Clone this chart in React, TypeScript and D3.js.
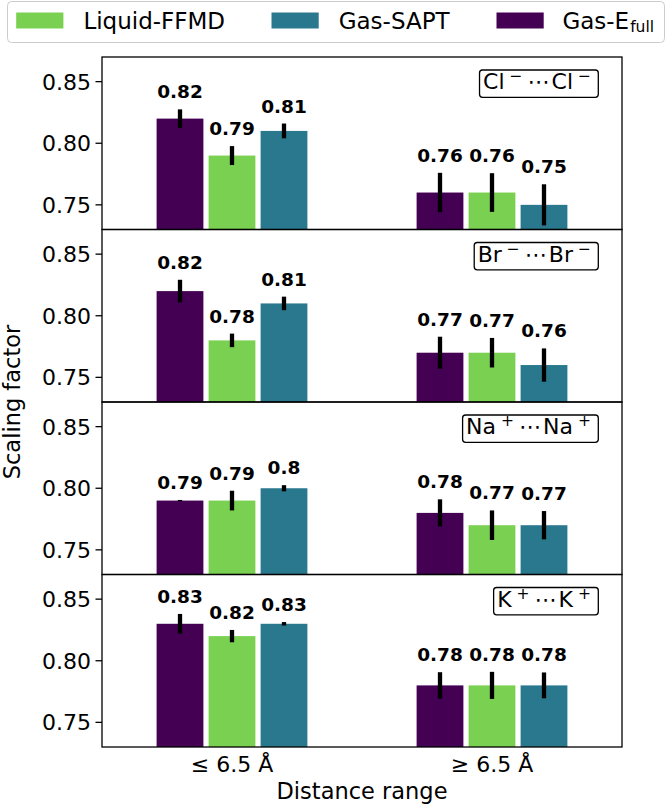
import React, { useEffect, useRef } from "react";
import * as d3 from "d3";

// ---- data ----
const categories = ["≤ 6.5 Å", "≥ 6.5 Å"];
const systemNames = ["Cl", "Br", "Na", "K"];
const systemCharges = ["−", "−", "+", "+"];

const seriesKeys = ["efull", "ffmd", "sapt"];
const seriesColors = ["#440154", "#7ad151", "#2a788e"];
const seriesOffsets = [-0.2, 0, 0.2];

// values[system][category]
const efullValues = [[0.82, 0.76], [0.82, 0.77], [0.79, 0.78], [0.83, 0.78]];
const ffmdValues = [[0.79, 0.76], [0.78, 0.77], [0.79, 0.77], [0.82, 0.78]];
const saptValues = [[0.81, 0.75], [0.81, 0.76], [0.80, 0.77], [0.83, 0.78]];

const efullErrors = [[0.0075, 0.016], [0.0092, 0.013], [0.0005, 0.011], [0.008, 0.0107]];
const ffmdErrors = [[0.0077, 0.0157], [0.0055, 0.012], [0.008, 0.012], [0.005, 0.011]];
const saptErrors = [[0.006, 0.0167], [0.0055, 0.0135], [0.0025, 0.0115], [0.0014, 0.0105]];

const yTicks = [0.75, 0.8, 0.85];
const yTickLabels = ["0.75", "0.80", "0.85"];
const yDomain = [0.73, 0.87];

const legendLabels = ["Liquid-FFMD", "Gas-SAPT", "Gas-E"];
const legendColors = ["#7ad151", "#2a788e", "#440154"];

const FONT = "DejaVu Sans";

export default function App() {
  const ref = useRef<SVGSVGElement>(null);

  useEffect(() => {
    const svg = d3.select(ref.current);
    svg.selectAll("*").remove();

    const values = [efullValues, ffmdValues, saptValues];
    const errors = [efullErrors, ffmdErrors, saptErrors];

    const left = 102, right = 622;
    const firstTop = 57, panelH = 172.5;
    const x = d3.scaleLinear().domain([-0.5, 1.5]).range([left, right]);
    const barW = x(0.18) - x(0);

    systemNames.forEach((name, i) => {
      const top = firstTop + i * panelH;
      const bottom = top + panelH;
      const y = d3.scaleLinear().domain(yDomain).range([bottom, top]);
      const g = svg.append("g");

      seriesKeys.forEach((key, j) => {
        categories.forEach((_, k) => {
          const v = values[j][i][k];
          const e = errors[j][i][k];
          const cx = x(k + seriesOffsets[j]);
          g.append("rect")
            .attr("x", cx - barW / 2)
            .attr("y", y(v))
            .attr("width", barW)
            .attr("height", bottom - y(v))
            .attr("fill", seriesColors[j]);
          g.append("line")
            .attr("x1", cx).attr("x2", cx)
            .attr("y1", y(v - e)).attr("y2", y(v + e))
            .attr("stroke", "#000")
            .attr("stroke-width", 4.3);
          g.append("text")
            .attr("x", cx)
            .attr("y", y(v + e) - 11)
            .attr("text-anchor", "middle")
            .attr("font-family", FONT)
            .attr("font-weight", "bold")
            .attr("font-size", 18.5)
            .attr("fill", "#000")
            .text(String(v));
        });
      });

      // spines
      g.append("rect")
        .attr("x", left).attr("y", top)
        .attr("width", right - left).attr("height", panelH)
        .attr("fill", "none").attr("stroke", "#000").attr("stroke-width", 1.3);

      // y ticks
      yTicks.forEach((t, ti) => {
        g.append("line")
          .attr("x1", left - 6.5).attr("x2", left)
          .attr("y1", y(t)).attr("y2", y(t))
          .attr("stroke", "#000").attr("stroke-width", 1.3);
        g.append("text")
          .attr("x", left - 11)
          .attr("y", y(t))
          .attr("dy", "0.36em")
          .attr("text-anchor", "end")
          .attr("font-family", FONT)
          .attr("font-size", 22)
          .attr("fill", "#000")
          .text(yTickLabels[ti]);
      });

      // annotation box
      const ann = g.append("g");
      const rectSel = ann.append("rect");
      const txt = ann.append("text")
        .attr("x", 591)
        .attr("y", top + 32.3)
        .attr("text-anchor", "end")
        .attr("font-family", FONT)
        .attr("font-size", 22)
        .attr("fill", "#000");
      txt.append("tspan").text(name);
      txt.append("tspan").attr("font-size", 15.5).attr("dx", 5).attr("dy", -8).text(systemCharges[i]);
      txt.append("tspan").attr("dx", 5).attr("dy", 8).text("⋯");
      txt.append("tspan").attr("dx", 2).text(name);
      txt.append("tspan").attr("font-size", 15.5).attr("dx", 5).attr("dy", -8).text(systemCharges[i]);
      const bb = (txt.node() as SVGTextElement).getBBox();
      const bx = bb.x - 3.5;
      rectSel
        .attr("x", bx).attr("y", top + 13)
        .attr("width", 598.3 - bx).attr("height", 27.3)
        .attr("rx", 3)
        .attr("fill", "#fff")
        .attr("stroke", "#000")
        .attr("stroke-width", 1.3);
    });

    const lastBottom = firstTop + systemNames.length * panelH;

    // x tick labels
    categories.forEach((c, k) => {
      svg.append("text")
        .attr("x", x(k))
        .attr("y", lastBottom + 25)
        .attr("text-anchor", "middle")
        .attr("font-family", FONT)
        .attr("font-size", 22)
        .attr("fill", "#000")
        .text(c);
    });

    // axis labels
    svg.append("text")
      .attr("x", (left + right) / 2)
      .attr("y", 799)
      .attr("text-anchor", "middle")
      .attr("font-family", FONT)
      .attr("font-size", 22.5)
      .attr("fill", "#000")
      .text("Distance range");
    svg.append("text")
      .attr("transform", `translate(19.8, ${(firstTop + lastBottom) / 2}) rotate(-90)`)
      .attr("text-anchor", "middle")
      .attr("font-family", FONT)
      .attr("font-size", 22.5)
      .attr("fill", "#000")
      .text("Scaling factor");

    // legend
    const lg = svg.append("g");
    lg.append("rect")
      .attr("x", 7.5).attr("y", 1.5)
      .attr("width", 657).attr("height", 41)
      .attr("rx", 4)
      .attr("fill", "#fff")
      .attr("stroke", "#cccccc")
      .attr("stroke-width", 1);
    const patchX = [16.2, 271.5, 496.5];
    const textX = [83.4, 338.7, 562.4];
    legendLabels.forEach((lab, li) => {
      lg.append("rect")
        .attr("x", patchX[li]).attr("y", 12.5)
        .attr("width", 47.2).attr("height", 16)
        .attr("fill", legendColors[li]);
      const t = lg.append("text")
        .attr("x", textX[li])
        .attr("y", 29)
        .attr("font-family", FONT)
        .attr("font-size", 23)
        .attr("fill", "#000");
      t.append("tspan").text(lab);
      if (li === 2) {
        t.append("tspan").attr("font-size", 15.5).attr("dx", 1).attr("dy", 3).text("full");
      }
    });
  }, []);

  return (
    <svg
      ref={ref}
      width={666}
      height={805}
      style={{ position: "absolute", left: 0, top: 0, background: "#fff" }}
    />
  );
}
